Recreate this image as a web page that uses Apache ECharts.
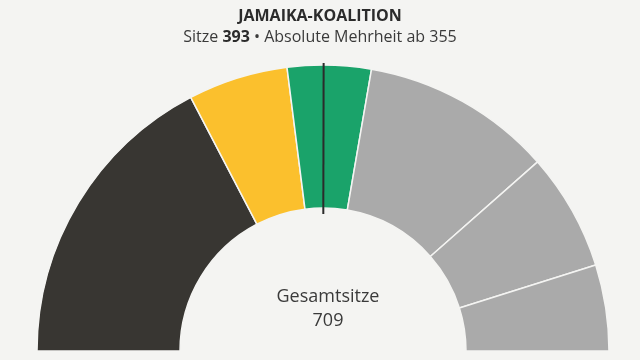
<!DOCTYPE html>
<html><head><meta charset="utf-8">
<script src="https://cdn.jsdelivr.net/npm/echarts@6/dist/echarts.min.js"></script>
<style>html,body{margin:0;padding:0;background:#f4f4f2;}#c{width:640px;height:360px;}</style>
</head><body><div id="c"></div>
<script>
const parties = ['CDU/CSU','FDP','Grüne','SPD','AfD','Linke'];
const seats = [246, 80, 67, 153, 94, 69];
const colors = ['#383632','#fbc02d','#1aa36a','#aaaaaa','#aaaaaa','#aaaaaa'];
const coalitionSeats = 393;
const majority = 355;
const totalSeats = 709;
const titleText = 'JAMAIKA-KOALITION';

const bg = '#f4f4f2';
const cx = 323, cy = 351, r0 = 143, r1 = 286;
const chart = echarts.init(document.getElementById('c'));
const ang = Math.PI * (1 - majority / totalSeats);
const lineStart = [cx + Math.cos(ang) * (r0 - 6), cy - Math.sin(ang) * (r0 - 6)];
const lineEnd = [cx + Math.cos(ang) * (r1 + 2), cy - Math.sin(ang) * (r1 + 2)];
const font = '"Open Sans", "Noto Sans", sans-serif';
chart.setOption({
  backgroundColor: bg,
  animation: false,
  title: [{
    text: titleText,
    left: 'center', top: 3,
    textStyle: {fontFamily: font, fontSize: 16, fontWeight: 'bold', color: '#2b2b2b'},
    subtext: '{n|Sitze }{b|' + coalitionSeats + '}{n| • Absolute Mehrheit ab ' + majority + '}',
    itemGap: 5,
    subtextStyle: {rich: {
      n: {fontFamily: font, fontSize: 16, color: '#3a3a3a'},
      b: {fontFamily: font, fontSize: 16, color: '#2b2b2b', fontWeight: 'bold'}
    }}
  }, {
    text: 'Gesamtsitze',
    left: cx, top: 283, textAlign: 'center',
    textStyle: {fontFamily: font, fontSize: 18, fontWeight: 'normal', color: '#3a3a3a'},
    subtext: String(totalSeats),
    itemGap: 6,
    subtextStyle: {fontFamily: font, fontSize: 18, color: '#3a3a3a'}
  }],
  series: [{
    type: 'pie',
    center: [cx, cy],
    radius: [r0, r1],
    startAngle: 180,
    endAngle: 0,
    clockwise: true,
    label: {show: false},
    labelLine: {show: false},
    silent: true,
    itemStyle: {borderColor: bg, borderWidth: 1.5},
    data: parties.map((p, i) => ({name: p, value: seats[i], itemStyle: {color: colors[i]}}))
  }],
  graphic: [{
    type: 'line',
    shape: {x1: lineStart[0], y1: lineStart[1], x2: lineEnd[0], y2: lineEnd[1]},
    style: {stroke: '#2b2b2b', lineWidth: 2},
    z: 100
  }]
});
</script></body></html>
